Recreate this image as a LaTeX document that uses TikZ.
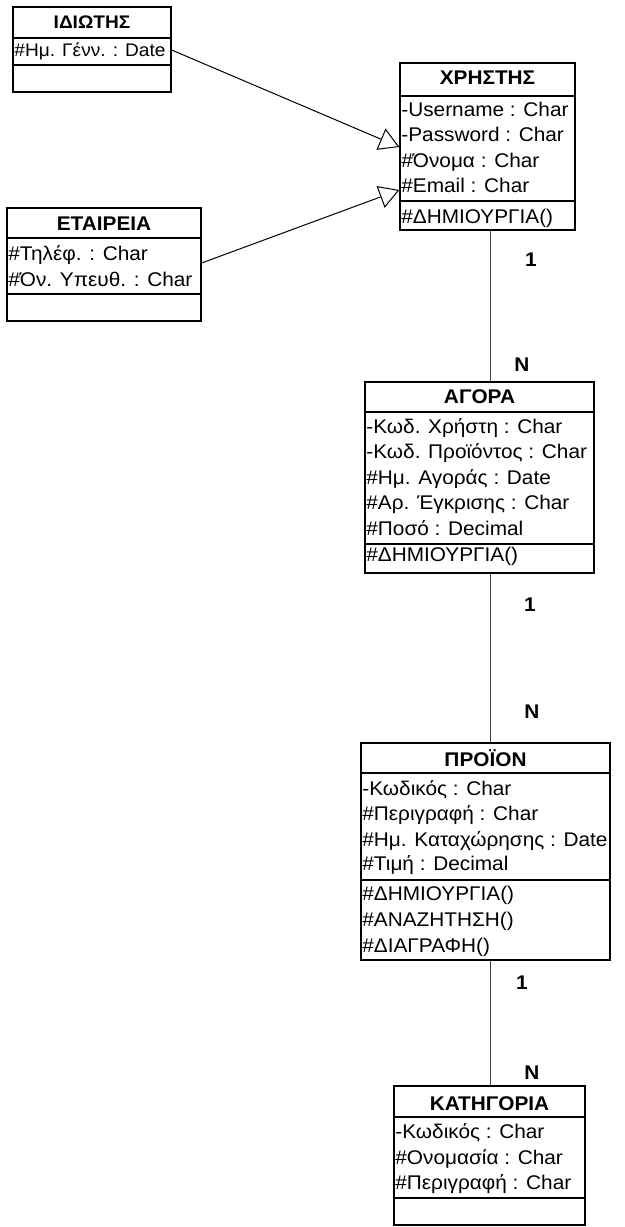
\documentclass[tikz,border=0pt]{standalone}
\usepackage{fontspec}
\setmainfont{Liberation Sans}[FakeStretch=1.05]
\usetikzlibrary{arrows.meta,fit}
\begin{document}
\begin{tikzpicture}[x=0.5pt,y=-0.5pt,
  umlbox/.style={draw,line width=0.65pt,inner sep=0pt,fill=none},
  divider/.style={line width=0.65pt},
  hdr/.style={font=\fontsize{9.9}{11.9}\selectfont\bfseries,inner sep=0pt,anchor=base},
  attr/.style={font=\fontsize{9.9}{11.9}\selectfont,inner sep=0pt,anchor=base west},
  smallhdr/.style={hdr,font=\fontsize{9.1}{10.9}\selectfont\bfseries},
  smallattr/.style={attr,font=\fontsize{9.1}{10.9}\selectfont},
  card/.style={font=\fontsize{9.9}{11.9}\selectfont\bfseries,inner sep=0pt},
  gen/.style={line width=0.5pt,-{Triangle[open,length=10pt,width=11.5pt,fill=white]}},
  assoc/.style={line width=0.5pt,draw=black!75}]
\useasboundingbox (0,0) rectangle (625,1227);

% ---------- ΙΔΙΩΤΗΣ ----------
\node[umlbox,fit={(13,7) (171,92)}] (idiotis) {};
\draw[divider] (idiotis.west |- 0,38) -- (idiotis.east |- 0,38);
\draw[divider] (idiotis.west |- 0,65) -- (idiotis.east |- 0,65);
\node[smallhdr] (idiotisT) at (92,28.5) {ΙΔΙΩΤΗΣ};
\node[smallattr] (idiotisA1) at (14,56) {\#Ημ. Γένν. : Date};

% ---------- ΧΡΗΣΤΗΣ ----------
\node[umlbox,fit={(400,63) (575,230)}] (xristis) {};
\draw[divider] (xristis.west |- 0,96) -- (xristis.east |- 0,96);
\draw[divider] (xristis.west |- 0,201) -- (xristis.east |- 0,201);
\node[hdr] (xristisT) at (487.5,84) {ΧΡΗΣΤΗΣ};
\node[attr] (xristisA1) at (401,116) {-Username : Char};
\node[attr] (xristisA2) at (401,141.5) {-Password : Char};
\node[attr] (xristisA3) at (401,167) {\#Όνομα : Char};
\node[attr] (xristisA4) at (401,192) {\#Email : Char};
\node[attr] (xristisO1) at (401,223) {\#ΔΗΜΙΟΥΡΓΙΑ()};

% ---------- ΕΤΑΙΡΕΙΑ ----------
\node[umlbox,fit={(7,208) (201,321)}] (etaireia) {};
\draw[divider] (etaireia.west |- 0,238) -- (etaireia.east |- 0,238);
\draw[divider] (etaireia.west |- 0,294) -- (etaireia.east |- 0,294);
\node[hdr] (etaireiaT) at (104,230) {ΕΤΑΙΡΕΙΑ};
\node[attr] (etaireiaA1) at (8,260) {\#Τηλέφ. : Char};
\node[attr] (etaireiaA2) at (8,286.5) {\#Όν. Υπευθ. : Char};

% ---------- ΑΓΟΡΑ ----------
\node[umlbox,fit={(365,382) (594,573)}] (agora) {};
\draw[divider] (agora.west |- 0,412) -- (agora.east |- 0,412);
\draw[divider] (agora.west |- 0,544) -- (agora.east |- 0,544);
\node[hdr] (agoraT) at (479.5,403) {ΑΓΟΡΑ};
\node[attr] (agoraA1) at (366,433) {-Κωδ. Χρήστη : Char};
\node[attr] (agoraA2) at (366,458.5) {-Κωδ. Προϊόντος : Char};
\node[attr] (agoraA3) at (366,484) {\#Ημ. Αγοράς : Date};
\node[attr] (agoraA4) at (366,509.5) {\#Αρ. Έγκρισης : Char};
\node[attr] (agoraA5) at (366,535) {\#Ποσό : Decimal};
\node[attr] (agoraO1) at (366,561) {\#ΔΗΜΙΟΥΡΓΙΑ()};

% ---------- ΠΡΟΪΟΝ ----------
\node[umlbox,fit={(361,743) (610,960)}] (proion) {};
\draw[divider] (proion.west |- 0,773) -- (proion.east |- 0,773);
\draw[divider] (proion.west |- 0,880) -- (proion.east |- 0,880);
\node[hdr] (proionT) at (485.5,766) {ΠΡΟΪΟΝ};
\node[attr] (proionA1) at (362,795) {-Κωδικός : Char};
\node[attr] (proionA2) at (362,820.5) {\#Περιγραφή : Char};
\node[attr] (proionA3) at (362,846) {\#Ημ. Καταχώρησης : Date};
\node[attr] (proionA4) at (362,870.5) {\#Τιμή : Decimal};
\node[attr] (proionO1) at (362,900) {\#ΔΗΜΙΟΥΡΓΙΑ()};
\node[attr] (proionO2) at (362,926) {\#ΑΝΑΖΗΤΗΣΗ()};
\node[attr] (proionO3) at (362,952.5) {\#ΔΙΑΓΡΑΦΗ()};

% ---------- ΚΑΤΗΓΟΡΙΑ ----------
\node[umlbox,fit={(394,1086) (585,1225)}] (katigoria) {};
\draw[divider] (katigoria.west |- 0,1117) -- (katigoria.east |- 0,1117);
\draw[divider] (katigoria.west |- 0,1198) -- (katigoria.east |- 0,1198);
\node[hdr] (katigoriaT) at (489.5,1110.5) {ΚΑΤΗΓΟΡΙΑ};
\node[attr] (katigoriaA1) at (395,1138.5) {-Κωδικός : Char};
\node[attr] (katigoriaA2) at (395,1164) {\#Ονομασία : Char};
\node[attr] (katigoriaA3) at (395,1189.5) {\#Περιγραφή : Char};

% ---------- generalisations ----------
\draw[gen] (idiotis.east |- 0,50) -- (xristis.west |- 0,147);
\draw[gen] (etaireia.east |- 0,263) -- (xristis.west |- 0,190);

% ---------- associations ----------
\draw[assoc] (xristis.south -| 490,0) -- (agora.north -| 490,0);
\draw[assoc] (agora.south -| 490,0) -- (proion.north -| 490,0);
\draw[assoc] (proion.south -| 490,0) -- (katigoria.north -| 490,0);

\node[card] (m1a) at (531,260) {1};
\node[card] (m1b) at (522,365) {N};
\node[card] (m2a) at (530,605) {1};
\node[card] (m2b) at (532,712) {N};
\node[card] (m3a) at (522,983) {1};
\node[card] (m3b) at (532,1073) {N};
\end{tikzpicture}
\end{document}
